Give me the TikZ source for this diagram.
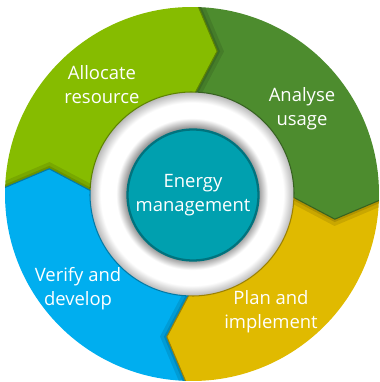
\documentclass[tikz,border=0pt]{standalone}
\usepackage{fontspec}
\setsansfont{Open Sans}
\usetikzlibrary{positioning}
\definecolor{cyclgreen}{RGB}{134,188,0}
\definecolor{cycdgreen}{RGB}{77,140,46}
\definecolor{cycgold}{RGB}{224,186,0}
\definecolor{cycblue}{RGB}{0,174,239}
\definecolor{cycteal}{RGB}{0,160,175}
\pgfdeclareradialshading{ringshade}{\pgfpoint{0bp}{0bp}}{color(0bp)=(black!40); color(16.3bp)=(black!40); color(18.6bp)=(white); color(22.4bp)=(white); color(25bp)=(black!28); color(50bp)=(black!28)}
% one arrow segment of the cycle, from angle #1 clockwise to angle #2
\newcommand{\segpath}[2]{(#1:187) arc[start angle=#1, end angle=#2, radius=187] -- ({#2-8}:145) -- (#2:102) arc[start angle=#2, end angle=#1, radius=102] -- ({#1-8}:145) -- cycle}

\begin{document}
\begin{tikzpicture}[x=0.02cm, y=0.02cm,
  lbl/.style={text=white, font=\sffamily\fontsize{10.5}{13.6}\selectfont, align=center}]
  \useasboundingbox (0,0) rectangle (379,382);

  \begin{scope}[shift={(192,188)}]
  % Segments
  \foreach \s/\e/\col in {178/88/cyclgreen, 88/-2/cycdgreen, -2/-92/cycgold, 268/178/cycblue}
    \fill[\col] \segpath{\s}{\e};

  % Ring
  \shade[shading=ringshade] (0,0) circle (102);

  % Arrow tips: shadow and edge
  \foreach \e/\col in {88/cyclgreen, -2/cycdgreen, -92/cycgold, 178/cycblue}{
    \begin{scope}
      \clip \segpath{\e}{\e-90};
      \draw[black, opacity=0.10, line width=7pt] (\e:187) -- ({\e-8}:145) -- (\e:102);
      \draw[black, opacity=0.12, line width=3pt] (\e:187) -- ({\e-8}:145) -- (\e:102);
    \end{scope}
    \draw[\col!70!black, line width=0.6pt] (\e:187) -- ({\e-8}:145) -- (\e:102) arc[start angle=\e, end angle=\e+90, radius=102];
  }

  % Centre
  \node[lbl, circle, fill=cycteal, draw=cycteal!72!black, line width=1.3pt, minimum size=2.62cm, inner sep=0pt] (energy) at (1,-1) {Energy\\management};

  % Labels
  \node[lbl] (alloc) at (-90,109) {Allocate\\resource};
  \node[lbl] (analyse) at (110,85) {Analyse\\usage};
  \node[lbl] (plan) at (79,-118) {Plan and\\implement};
  \node[lbl] (verify) at (-114,-95) {Verify and\\develop};
  \end{scope}
\end{tikzpicture}
\end{document}
